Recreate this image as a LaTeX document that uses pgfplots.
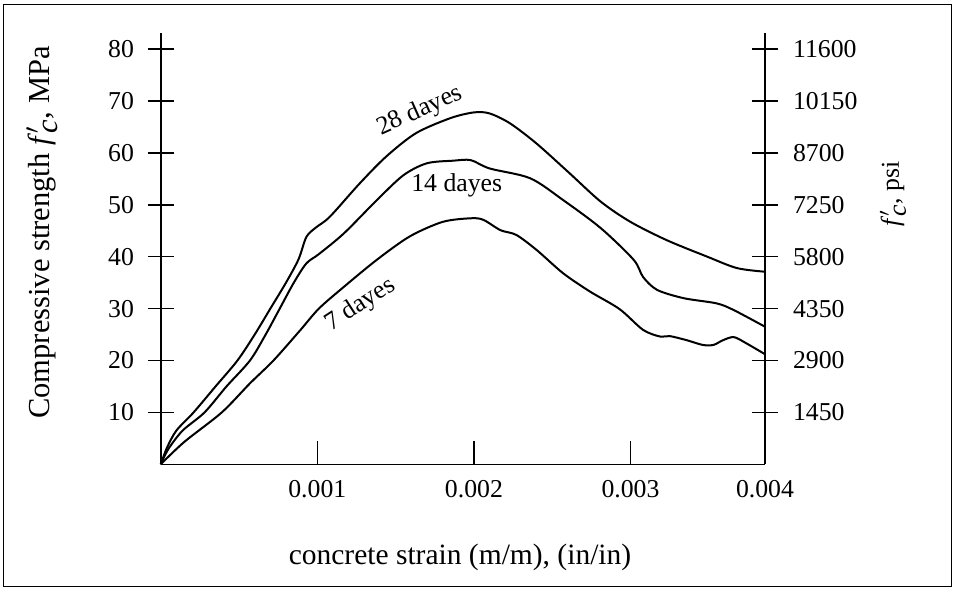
\documentclass[border=0pt]{standalone}
\usepackage{pgfplots}
\pgfplotsset{compat=1.18}
\usepackage{fontspec}
\setmainfont{Liberation Serif}
\newcommand{\fc}{\textit{f}$'_{\textit{c}}$}
\begin{document}
\begin{tikzpicture}[font=\fontsize{10.3}{12}\selectfont]
\pgfplotsset{
  base/.style={
    at={(0,0)}, anchor=south west,
    scale only axis, width=241.7pt, height=172.5pt,
    xmin=0, xmax=0.003859, ymin=0, ymax=83.1,
    axis line style={-, line width=0.6pt},
    every tick/.style={black, line width=0.6pt},
    scaled x ticks=false, scaled y ticks=false,
    clip=false,
  }
}
% main plot with x axis
\begin{axis}[base,
  axis x line*=bottom, axis y line*=left,
  tick align=inside, major tick length=9.2pt,
  xtick={0.001,0.002,0.003,0.003859},
  xticklabels={0.001,0.002,0.003,0.004},
  xticklabel style={yshift=-3pt},
  ytick=\empty,
]
\addplot[black, line width=0.8pt, smooth, tension=0.5] coordinates {
(0,0) (0.00004,3.2) (0.00010,6.5) (0.00021,10) (0.00035,15) (0.00049,20)
(0.00060,25) (0.00070,30) (0.00080,35) (0.00088,39.5) (0.00093,43.8)
(0.00099,45.6) (0.00108,47.7) (0.00127,54.1) (0.00144,59.3) (0.00163,63.8)
(0.00185,66.7) (0.00200,67.8) (0.00210,67.6) (0.00223,65.7) (0.00240,61.8)
(0.00261,56.1) (0.00281,50.6) (0.00300,46.7) (0.00323,43.2) (0.00349,40.0)
(0.00368,37.8) (0.003859,37.1)
};
\addplot[black, line width=0.8pt, smooth, tension=0.5] coordinates {
(0,0) (0.00005,3) (0.00014,6.5) (0.00028,10) (0.00042,15) (0.00057,20)
(0.00067,25) (0.00076,30) (0.00085,35) (0.00093,38.7) (0.00101,40.5)
(0.00117,44.5) (0.00138,50.9) (0.00155,55.7) (0.00170,58.0) (0.00187,58.5)
(0.00198,58.6) (0.00210,57.0) (0.00236,55.1) (0.00257,50.9) (0.00281,45.5)
(0.00302,39.4) (0.00308,36.1) (0.00317,33.6) (0.00334,32.0) (0.00355,31.0)
(0.00366,29.7) (0.003859,26.5)
};
\addplot[black, line width=0.8pt, smooth, tension=0.5] coordinates {
(0,0) (0.00015,4.3) (0.00039,10) (0.00057,15.6) (0.00072,20) (0.00089,25.8)
(0.00101,30.0) (0.00117,34.2) (0.00138,39.4) (0.00159,43.9) (0.00180,46.7)
(0.00198,47.4) (0.00206,47.1) (0.00217,45.1) (0.00227,44.2) (0.00240,41.3)
(0.00257,36.8) (0.00274,33.3) (0.00293,29.9) (0.00308,25.9) (0.00319,24.6)
(0.00325,24.7) (0.00336,23.9) (0.00346,23.0) (0.00353,23.0) (0.00359,23.9)
(0.00366,24.5) (0.00374,23.3) (0.003859,21.2)
};
\end{axis}
% left y axis
\begin{axis}[base,
  axis x line=none, axis y line*=left,
  tick align=center, major tick length=10.4pt,
  ytick={10,20,30,40,50,60,70,80},
  yticklabels={10,20,30,40,50,60,70,80},
  yticklabel style={anchor=east, xshift=-2pt},
]
\end{axis}
% right y axis
\begin{axis}[base,
  ymax=12049.5,
  axis x line=none, axis y line*=right,
  tick align=center, major tick length=10.4pt,
  ytick={1450,2900,4350,5800,7250,8700,10150,11600},
  yticklabels={1450,2900,4350,5800,7250,8700,10150,11600},
  yticklabel style={anchor=west, xshift=2.5pt},
]
\end{axis}
\node[rotate=90, font=\fontsize{12.2}{14}\selectfont] at (-47.5pt,92.7pt) {Compressive strength \fc, MPa};
\node[rotate=90] at (292.9pt,108.1pt) {\fc, psi};
\node[font=\fontsize{11.8}{14}\selectfont] at (119.7pt,-37.1pt) {concrete strain (m/m), (in/in)};
\node[rotate=24] at (103.7pt,141.3pt) {28 dayes};
\node at (118.4pt,111.7pt) {14 dayes};
\node[rotate=33] at (80pt,63.8pt) {7 dayes};
\draw[line width=0.4pt] (-62.7pt,-48.7pt) rectangle (316.1pt,184.1pt);
\useasboundingbox (-64.3pt,-50.7pt) rectangle (317.7pt,185.7pt);
\end{tikzpicture}
\end{document}
